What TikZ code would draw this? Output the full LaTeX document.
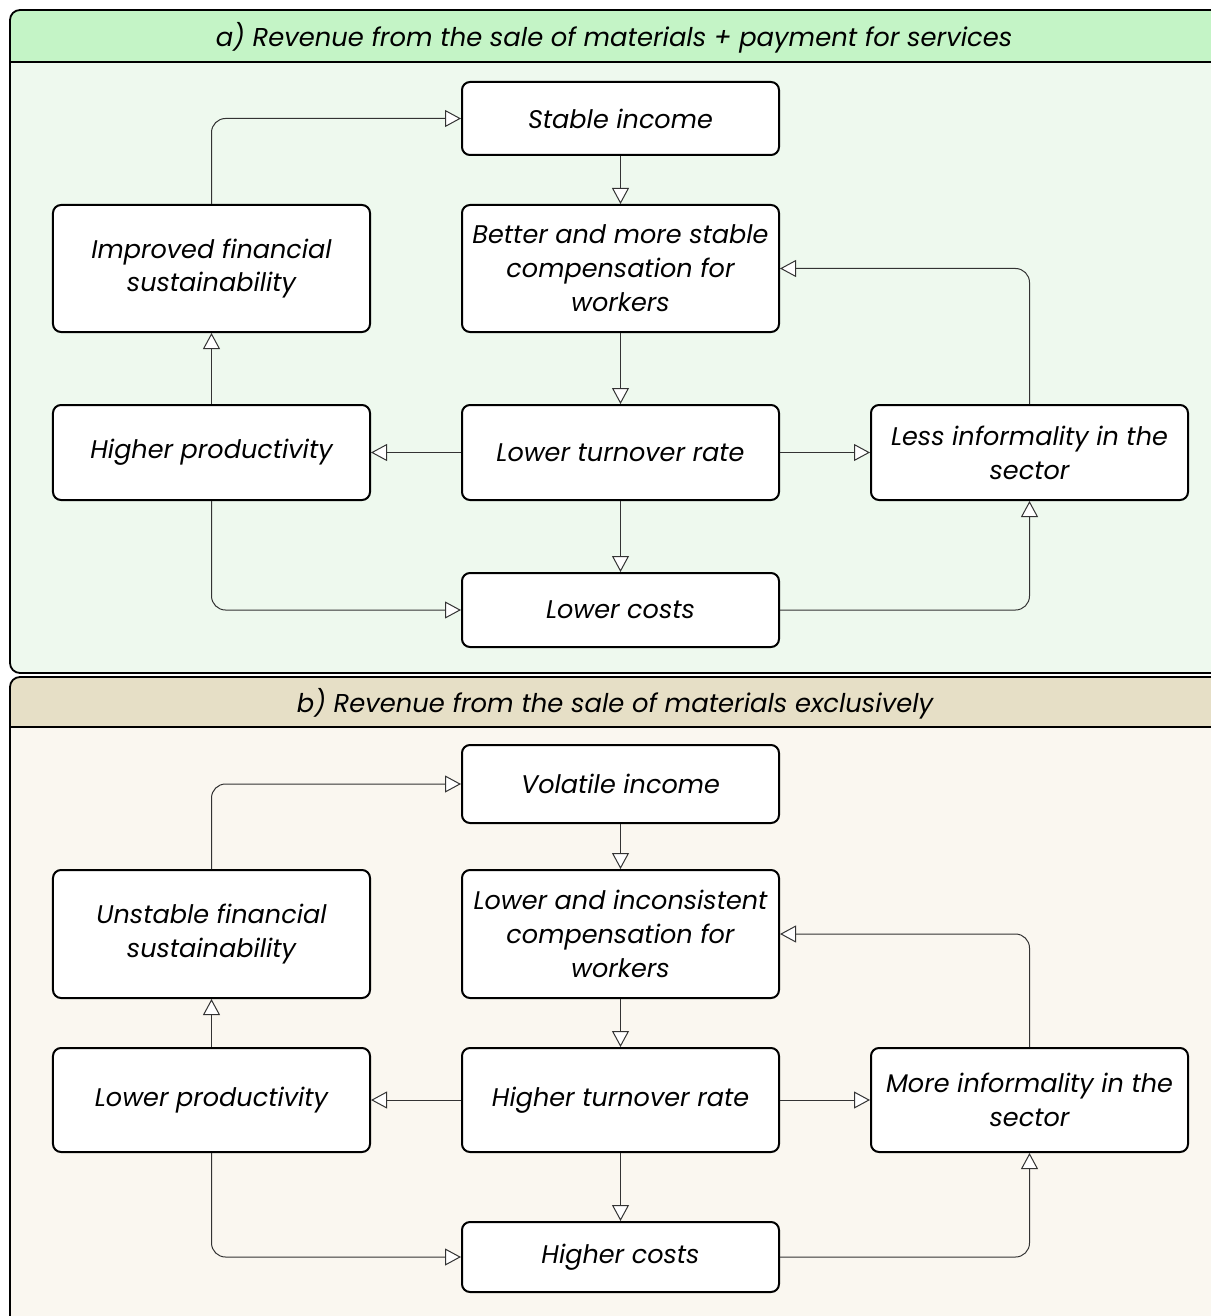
\documentclass[tikz,border=0pt]{standalone}
\usepackage{fontspec}
\setmainfont{Poppins}
\usetikzlibrary{arrows.meta}
\definecolor{headA}{HTML}{C4F4C6}
\definecolor{bodyA}{HTML}{EEF9EE}
\definecolor{headB}{HTML}{E6DFC6}
\definecolor{bodyB}{HTML}{FAF7F0}
\definecolor{linec}{HTML}{333333}
\begin{document}
\begin{tikzpicture}[x=1bp,y=-1bp,
  txt/.style={font=\fontsize{25.6}{34}\selectfont\itshape},
  htxt/.style={font=\fontsize{25.9}{34}\selectfont\itshape},
  box/.style={txt, draw=black, line width=2bp, rounded corners=8bp, fill=white,
    minimum width=317bp, align=center, inner sep=0pt},
  conn/.style={draw=linec, line width=1bp, rounded corners=14bp,
    -{Triangle[length=16bp, width=17bp, fill=white]}},
  panel/.style={draw=black, line width=1.8bp, rounded corners=10bp}]
\useasboundingbox (0,0) rectangle (1210,1316);

% ---------- panel a ----------
\fill[bodyA, rounded corners=10bp] (10,10) rectangle (1240,673);
\begin{scope}
  \clip[rounded corners=10bp] (10,10) rectangle (1240,673);
  \fill[headA] (10,10) rectangle (1240,62);
\end{scope}
\draw[line width=1.8bp] (10,62) -- (1240,62);
\draw[panel] (10,10) rectangle (1240,673);
\node[htxt] (ta) at (614,38) {a) Revenue from the sale of materials + payment for services};

\node[box, minimum height=73bp] (aS) at (620.5,118.5) {Stable income};
\node[box, minimum height=127bp] (aB) at (620.5,268.5) {Better and more stable\\compensation for\\workers};
\node[box, minimum height=127bp] (aI) at (211.5,268.5) {Improved financial\\sustainability};
\node[box, minimum height=95bp] (aH) at (211.5,452.5) {Higher productivity};
\node[box, minimum height=95bp] (aT) at (620.5,452.5) {Lower turnover rate};
\node[box, minimum height=95bp] (aL) at (1029.5,452.5) {Less informality in the\\sector};
\node[box, minimum height=74bp] (aC) at (620.5,610) {Lower costs};

\draw[conn] (aI.north) |- (aS.west);
\draw[conn] (aS) -- (aB);
\draw[conn] (aB) -- (aT);
\draw[conn] (aL.north) |- (aB.east);
\draw[conn] (aT) -- (aH);
\draw[conn] (aT) -- (aL);
\draw[conn] (aH) -- (aI);
\draw[conn] (aT) -- (aC);
\draw[conn] (aH.south) |- (aC.west);
\draw[conn] (aC.east) -| (aL.south);

% ---------- panel b ----------
\fill[bodyB, rounded corners=10bp] (10,677) rectangle (1240,1340);
\begin{scope}
  \clip[rounded corners=10bp] (10,677) rectangle (1240,1340);
  \fill[headB] (10,677) rectangle (1240,727);
\end{scope}
\draw[line width=1.8bp] (10,727) -- (1240,727);
\draw[panel] (10,677) rectangle (1240,1340);
\node[htxt] (tb) at (615,704) {b) Revenue from the sale of materials exclusively};

\node[box, minimum height=78bp] (bS) at (620.5,784) {Volatile income};
\node[box, minimum height=128bp] (bB) at (620.5,934) {Lower and inconsistent\\compensation for\\workers};
\node[box, minimum height=128bp] (bI) at (211.5,934) {Unstable financial\\sustainability};
\node[box, minimum height=104bp] (bH) at (211.5,1100) {Lower productivity};
\node[box, minimum height=104bp] (bT) at (620.5,1100) {Higher turnover rate};
\node[box, minimum height=104bp] (bL) at (1029.5,1100) {More informality in the\\sector};
\node[box, minimum height=70bp] (bC) at (620.5,1257) {Higher costs};

\draw[conn] (bI.north) |- (bS.west);
\draw[conn] (bS) -- (bB);
\draw[conn] (bB) -- (bT);
\draw[conn] (bL.north) |- (bB.east);
\draw[conn] (bT) -- (bH);
\draw[conn] (bT) -- (bL);
\draw[conn] (bH) -- (bI);
\draw[conn] (bT) -- (bC);
\draw[conn] (bH.south) |- (bC.west);
\draw[conn] (bC.east) -| (bL.south);
\end{tikzpicture}
\end{document}
